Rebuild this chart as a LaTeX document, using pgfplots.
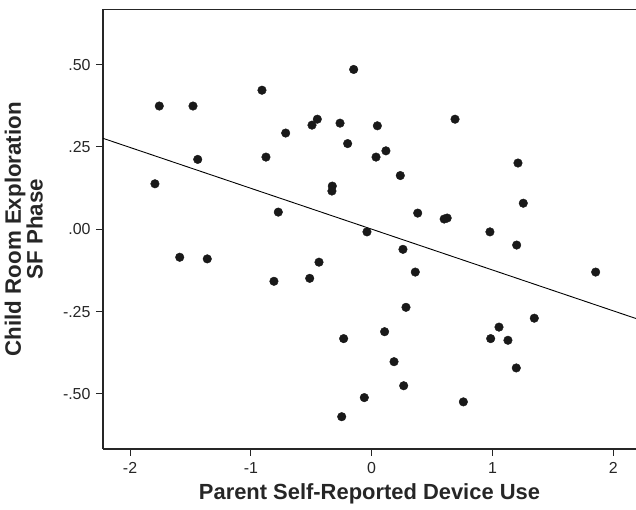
\documentclass[border=0pt]{standalone}
\usepackage{pgfplots}
\pgfplotsset{compat=1.18}
\usepackage{fontspec}
\setmainfont{Liberation Sans}
\begin{document}
\begin{tikzpicture}
\begin{axis}[name=ax, at={(0,0)}, anchor=south west,
  scale only axis, width=533bp, height=439.5bp,
  xmin=-2.224, xmax=2.188, ymin=-0.667, ymax=0.667,
  axis x line=box, axis y line=left,
  y axis line style={-},
  xtick pos=left, ytick pos=left,
  tick align=outside, major tick length=7bp,
  axis line style={line width=1.1bp, black!85},
  tick style={line width=1bp, black!85},
  xtick={-2,-1,0,1,2}, xticklabels={-2,-1,0,1,2},
  ytick={-0.5,-0.25,0,0.25,0.5}, yticklabels={-.50,-.25,.00,.25,.50},
  ticklabel style={font=\fontsize{16}{16}\selectfont, text=black!85},
  xticklabel style={yshift=-3bp},
  yticklabel style={xshift=-2bp},
  xlabel={Parent Self-Reported Device Use},
  ylabel={Child Room Exploration\\SF Phase},
  every axis x label/.style={at={(axis description cs:0.5,0)}, anchor=base, yshift=-51bp,
    font=\fontsize{22}{22}\bfseries, text=black!85},
  every axis y label/.style={at={(axis description cs:-0.1126,0.5)}, rotate=90, anchor=south,
    align=center, inner sep=0pt, font=\fontsize{22.4}{17}\bfseries, text=black!85},
  clip=true,
]
\addplot[only marks, mark=*, mark size=4.3bp, black!90] coordinates {
(-1.794,0.138) (-1.758,0.374) (-1.479,0.374) (-1.440,0.212) (-1.589,-0.085)
(-1.361,-0.090) (-0.908,0.422) (-0.875,0.219) (-0.773,0.052) (-0.712,0.292)
(-0.809,-0.158) (-0.513,-0.149) (-0.494,0.316) (-0.450,0.334) (-0.436,-0.100)
(-0.326,0.131) (-0.329,0.116) (-0.262,0.322) (-0.232,-0.332) (-0.199,0.260)
(-0.248,-0.569) (-0.149,0.485) (-0.039,-0.008) (-0.061,-0.511) (0.047,0.314)
(0.036,0.219) (0.118,0.238) (0.237,0.163) (0.381,0.049) (0.259,-0.061)
(0.600,0.031) (0.625,0.034) (0.690,0.334) (0.979,-0.008) (1.211,0.201)
(1.255,0.079) (1.200,-0.048) (0.361,-0.130) (0.284,-0.237) (0.107,-0.311)
(0.185,-0.402) (0.265,-0.475) (0.759,-0.524) (0.985,-0.332) (1.054,-0.297)
(1.128,-0.337) (1.346,-0.270) (1.197,-0.421) (1.854,-0.130)
};
\addplot[black, line width=0.9bp] coordinates {(-2.224,0.276) (2.188,-0.271)};
\end{axis}
\pgfresetboundingbox
\path ([xshift=-103bp,yshift=9.5bp]ax.north west) rectangle ([yshift=-61bp]ax.south east);
\end{tikzpicture}
\end{document}
